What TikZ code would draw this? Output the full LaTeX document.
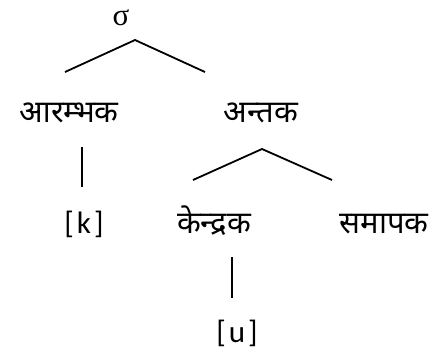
\documentclass[tikz,border=0pt]{standalone}
\usepackage{fontspec}
\newfontfamily\devfont[Script=Devanagari]{Noto Sans}
\newfontfamily\latfont{Carlito}
\newfontfamily\grkfont{Liberation Serif}
\begin{document}
\begin{tikzpicture}[x=1pt,y=-1pt,
  dev/.style={font=\devfont\fontsize{31}{36}\selectfont, inner sep=0pt, anchor=base},
  lat/.style={font=\latfont\fontsize{31}{36}\selectfont, inner sep=0pt, anchor=base},
  grk/.style={font=\grkfont\fontsize{31}{36}\selectfont, inner sep=0pt, anchor=base},
  branch/.style={line width=1.8pt}]
\useasboundingbox (0,0) rectangle (446,354);
\node[grk] (sigma) at (121,25) {σ};
\node[dev] (arambhak) at (69,122) {आरम्भक};
\node[dev] (antak) at (261,122) {अन्तक};
\node[lat] (k) at (84,233) {[\kern3pt k\kern3pt]};
\node[dev] (kendrak) at (214,233) {केन्द्रक};
\node[dev] (samapak) at (384,233) {समापक};
\node[lat] (u) at (237,342) {[\kern3pt u\kern3pt]};
% branch points
\coordinate (s-apex) at (135,40);
\coordinate (s-left) at (65,72);
\coordinate (s-right) at (205,72);
\coordinate (a-apex) at (262,149);
\coordinate (a-left) at (193,180);
\coordinate (a-right) at (332,180);
\coordinate (ar-top) at (82,147);
\coordinate (ar-bot) at (82,187);
\coordinate (ke-top) at (232,257);
\coordinate (ke-bot) at (232,298);
\draw[branch] (s-left) -- (s-apex) -- (s-right);
\draw[branch] (a-left) -- (a-apex) -- (a-right);
\draw[branch] (ar-top) -- (ar-bot);
\draw[branch] (ke-top) -- (ke-bot);
\end{tikzpicture}
\end{document}
